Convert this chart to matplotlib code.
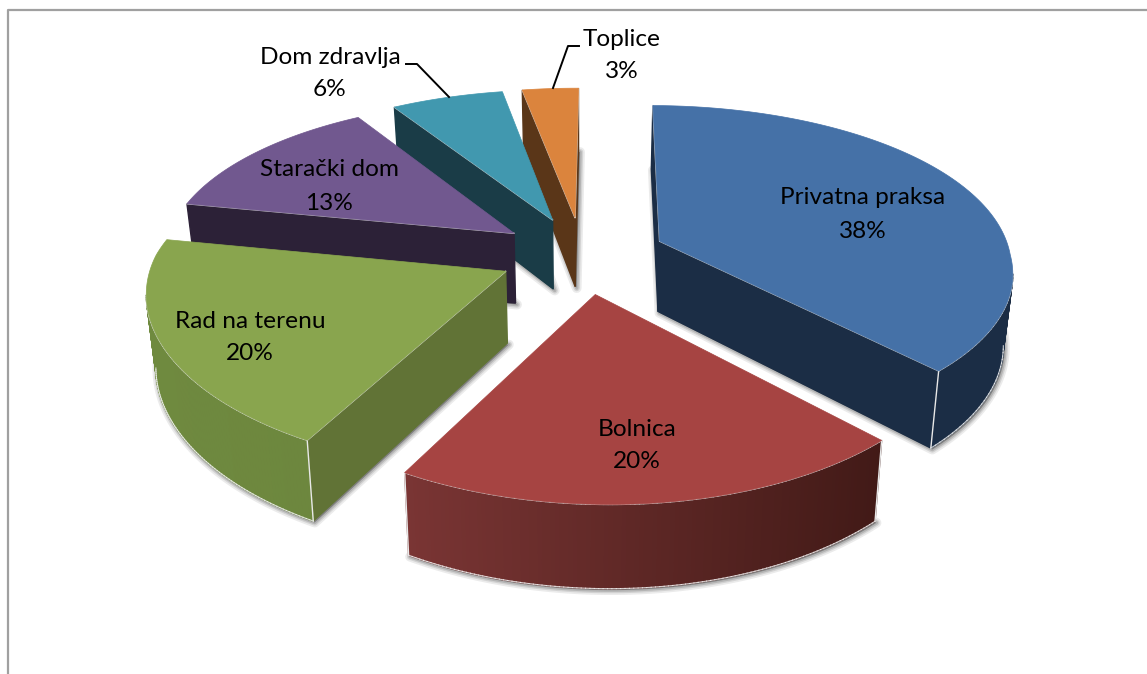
import numpy as np
import matplotlib.pyplot as plt
from matplotlib.patches import Polygon

plt.rcParams['font.family'] = ['Lato', 'DejaVu Sans']

categories = ['Privatna praksa', 'Bolnica', 'Rad na terenu', 'Starački dom', 'Dom zdravlja', 'Toplice']
values = [38, 20, 20, 13, 6, 3]

top_colors = ['#4571a7', '#a64442', '#89a54e', '#71588f', '#4198af', '#db843d']
cut_colors = ['#1b2d45', '#421a17', '#617336', '#2c2137', '#1a3c47', '#5a3618']
arc_left = ['#1b2d45', '#7a3534', '#6f8a3f', '#2c2137', '#1a3c47', '#5a3618']
arc_right = ['#1b2d45', '#421a17', '#6d873e', '#2c2137', '#1a3c47', '#5a3618']

# pozicije tekstova (u pikselima slike)
label_xy = [(863, 198), (637, 429), (250, 321), (329, 170), (330, 57), (622, 39)]
line_gap = 33
leaders = {4: [(406, 64), (417, 64), (449, 97)], 5: [(579, 46), (568, 46), (553, 88)]}

# perspektiva
cx, cy = 582, 255
rx, ry = 351, 159
kx, ky = 0.14, 0.17
skew = 13
explode = 0.24
depth = 71
shrink = 0.978
first_angle = np.deg2rad(0.5)


def project(x, y, bottom=False):
    sx = 1 / (1 + kx * y)
    sy = 1 / (1 + ky * y)
    px = cx + rx * x * sx + skew * np.maximum(-y, 0)
    py = cy - ry * y * sy * np.where(y > 0, 1.025, 1.0)
    if bottom:
        px = cx + (px - cx) * shrink
        py = py + depth * (0.3 + 0.7 * sy)
    return np.column_stack([px, py])


def mix(c1, c2, t):
    a = np.array(plt.matplotlib.colors.to_rgb(c1))
    b = np.array(plt.matplotlib.colors.to_rgb(c2))
    return a + (b - a) * t


def slice_outline(start, end):
    # vrh + luk, uglovi u smeru kazaljke od vrha kruga
    mid = (start + end) / 2
    dx, dy = explode * np.sin(mid), explode * np.cos(mid)
    ang = np.linspace(start, end, 120)
    xs = np.r_[dx, dx + np.sin(ang)]
    ys = np.r_[dy, dy + np.cos(ang)]
    return xs, ys


fig = plt.figure(figsize=(11.47, 6.74), dpi=100)
ax = fig.add_axes([0, 0, 1, 1])
ax.set_xlim(0, 1147)
ax.set_ylim(674, 0)
ax.axis('off')

# okvir
ax.plot([8, 8, 1147], [674, 10, 10], color='#a0a0a0', lw=1.6, zorder=1)

fractions = first_angle + np.cumsum([0] + values) / sum(values) * 2 * np.pi
draw_order = [5, 4, 3, 2, 0, 1]
z = 2

for i in draw_order:
    xs, ys = slice_outline(fractions[i], fractions[i + 1])
    top = project(xs, ys)
    bot = project(xs, ys, bottom=True)
    n = len(top)

    # senka
    for lw, al in [(7, 0.10), (4.5, 0.14), (2.5, 0.2)]:
        ax.add_patch(Polygon(bot + [1.5, 1.5], closed=True, fc='none', ec='#404040', lw=lw, alpha=al, zorder=z, joinstyle='round'))
    ax.add_patch(Polygon(bot + [1.5, 1.5], closed=True, fc='#808080', ec='none', zorder=z))
    z += 1

    # znak povrsine da znamo gde je spolja
    area = np.sum(top[:, 0] * np.roll(top[:, 1], -1) - np.roll(top[:, 0], -1) * top[:, 1])
    xmin, xmax = top[1:, 0].min(), top[1:, 0].max()
    visible = []
    for j in range(n):
        a, b = j, (j + 1) % n
        ex, ey = top[b] - top[a]
        nx, ny = (ey, -ex) if area > 0 else (-ey, ex)
        if ny <= 0:
            continue
        visible.append(j)
        is_cut = j == 0 or j == n - 1
        if is_cut:
            col = cut_colors[i]
        else:
            t = (top[a, 0] - xmin) / max(xmax - xmin, 1)
            col = mix(arc_left[i], arc_right[i], t)
        quad = np.array([top[a], top[b], bot[b], bot[a]])
        ax.add_patch(Polygon(quad, closed=True, fc=col, ec=col, lw=1.0, zorder=z))
    for j in visible:
        a, b = j, (j + 1) % n
        # svetla ivica gore
        ax.plot(*np.array([top[a], top[b]]).T, color='#e8e8e8', lw=1.1, alpha=0.85, zorder=z + 1, solid_capstyle='round')
        # i dole
        if not (j == 0 or j == n - 1):
            ax.plot(*np.array([bot[a], bot[b]]).T, color='#f2f2f2', lw=0.8, alpha=0.8, zorder=z + 1)
    # ivica na spoju zida i luka
    for p in (1, n - 1):
        if top[p, 1] > top[0, 1]:
            ax.plot([top[p, 0], bot[p, 0]], [top[p, 1], bot[p, 1]], color='#e8e8e8', lw=1.0, zorder=z + 1)
    z += 2
    ax.add_patch(Polygon(top, closed=True, fc=top_colors[i], ec=top_colors[i], lw=0.5, zorder=z))
    z += 1

for i, name in enumerate(categories):
    x, y = label_xy[i]
    ax.text(x, y, name, ha='center', va='center', fontsize=17.6, color='black', zorder=100)
    ax.text(x, y + line_gap, f'{values[i]}%', ha='center', va='center', fontsize=17.6, color='black', zorder=100)

for pts in leaders.values():
    pts = np.array(pts)
    ax.plot(pts[:, 0], pts[:, 1], color='black', lw=1.4, zorder=100)

fig.savefig('out.png', dpi=100)
